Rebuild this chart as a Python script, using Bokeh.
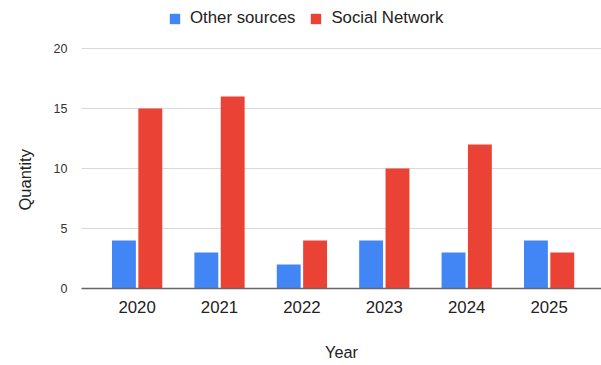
from bokeh.plotting import figure
from bokeh.models import ColumnDataSource, Range1d, FixedTicker, Legend, LegendItem, Title
from bokeh.transform import dodge
from bokeh.embed import file_html
from bokeh.resources import INLINE

years = [2020, 2021, 2022, 2023, 2024, 2025]
year_labels = ["2020", "2021", "2022", "2023", "2024", "2025"]
other_sources = [4, 3, 2, 4, 3, 4]
social_network = [15, 16, 4, 10, 12, 3]
y_ticks = [0, 5, 10, 15, 20]

BLUE = "#4285F4"
RED = "#EA4335"
FONT = "Liberation Sans"

src = ColumnDataSource(dict(year=years, other=other_sources, social=social_network))

p = figure(width=601, height=365, output_backend="svg", toolbar_location=None,
           x_range=Range1d(2019.325, 2025.636), y_range=Range1d(0, 24),
           min_border_left=80, min_border_right=0, min_border_top=0, min_border_bottom=77)
p.outline_line_color = None
p.background_fill_color = "white"
p.border_fill_color = "white"

r1 = p.vbar(x=dodge("year", -0.16, range=p.x_range), top="other", width=0.29, source=src,
            fill_color=BLUE, line_color=None)
r2 = p.vbar(x=dodge("year", 0.16, range=p.x_range), top="social", width=0.29, source=src,
            fill_color=RED, line_color=None)

# axes
p.xaxis.ticker = FixedTicker(ticks=years)
p.xaxis.major_label_overrides = {y: l for y, l in zip(years, year_labels)}
p.xaxis.major_tick_line_color = None
p.xaxis.minor_tick_line_color = None
p.xaxis.axis_line_color = "#666666"
p.xaxis.axis_line_width = 1.5
p.xaxis.major_label_standoff = 6
p.xaxis.major_label_text_font = FONT
p.xaxis.major_label_text_font_size = "16.8px"
p.xaxis.major_label_text_color = "#222222"
p.xaxis.axis_label = "Year"
p.xaxis.axis_label_text_font = FONT
p.xaxis.axis_label_text_font_size = "16.3px"
p.xaxis.axis_label_text_font_style = "normal"
p.xaxis.axis_label_text_color = "#222222"
p.xaxis.axis_label_standoff = 27

p.yaxis.ticker = FixedTicker(ticks=y_ticks)
p.yaxis.major_tick_line_color = None
p.yaxis.minor_tick_line_color = None
p.yaxis.axis_line_color = None
p.yaxis.major_label_standoff = 8
p.yaxis.major_label_text_font = FONT
p.yaxis.major_label_text_font_size = "12.5px"
p.yaxis.major_label_text_color = "#333333"

ytitle = Title(text="Quantity", align="left", offset=78, vertical_align="top", standoff=30,
               text_font=FONT, text_font_size="16.5px", text_font_style="normal",
               text_color="#222222")
p.add_layout(ytitle, "left")

p.xgrid.grid_line_color = None
p.ygrid.grid_line_color = "#d9d9d9"
p.ygrid.grid_line_width = 1

legend = Legend(items=[LegendItem(label="Other sources", renderers=[r1]),
                       LegendItem(label="Social Network", renderers=[r2])],
                orientation="horizontal", location=(87, 260),
                padding=0, margin=0, spacing=14, label_standoff=9,
                glyph_width=13, glyph_height=13,
                border_line_color=None, background_fill_alpha=0,
                label_text_font=FONT, label_text_font_size="16.8px",
                label_text_color="#222222")
p.add_layout(legend, "center")

open("out.html", "w").write(file_html(p, INLINE))
